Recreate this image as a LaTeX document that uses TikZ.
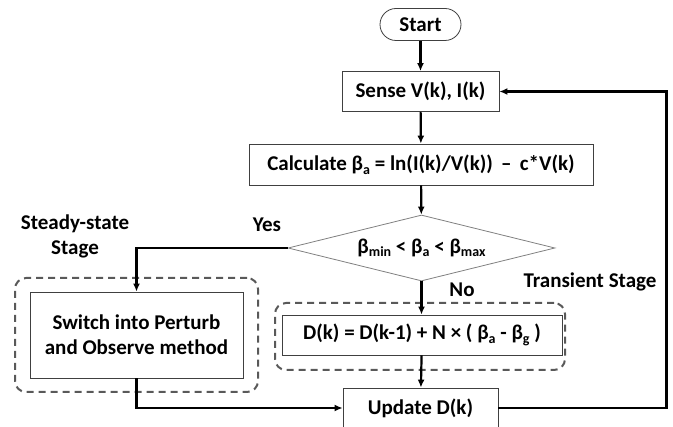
\documentclass[tikz,border=0pt]{standalone}
\usepackage{fontspec}
\setmainfont{Carlito}
\usetikzlibrary{shapes.geometric,arrows.meta}
\definecolor{mygray1}{HTML}{404040}
\definecolor{mygray2}{HTML}{808080}
\definecolor{mygray3}{HTML}{595959}
\newcommand{\lowsub}[1]{\raisebox{-0.35ex}{\fontsize{14}{14}\selectfont #1}}

\begin{document}
\begin{tikzpicture}[x=1pt,y=-1pt,
                    every node/.style={font=\fontsize{21}{25}\selectfont\bfseries,inner sep=0pt},
                    stepbox/.style={draw=mygray1,line width=0.8pt,fill=white,align=center},
                    decision/.style={diamond,aspect=4,draw=mygray2,line width=0.8pt,fill=white},
                    stagebox/.style={draw=mygray3,line width=2pt,dash pattern=on 7pt off 5pt,rounded corners=11pt},
                    flow/.style={line width=2.2pt,-{Latex[length=8pt,width=7pt]}}]
\useasboundingbox (0,0) rectangle (673,427);
% dashed stage frames
\node[stagebox,minimum width=243pt,minimum height=114pt] (steady) at (136.5,335) {};
\node[stagebox,minimum width=290pt,minimum height=67pt] (transient) at (420,336.5) {};
% flow chart
\node[stepbox,rounded corners=16pt,minimum width=81pt,minimum height=32pt] (start) at (420.5,24.5) {Start};
\node[stepbox,minimum width=157pt,minimum height=40pt] (sense) at (420.5,91.5) {Sense V(k), I(k)};
\node[stepbox,minimum width=344pt,minimum height=41pt] (calc) at (421,164.5)
    {Calculate β\lowsub{a} = ln(I(k)/V(k))~\,\textendash~\,c*V(k)};
\node[decision,minimum width=267pt,minimum height=66pt] (cond) at (421.5,248)
    {β\lowsub{min} < β\lowsub{a} < β\lowsub{max}};
\node[stepbox,minimum width=213pt,minimum height=86pt] (switch) at (136.5,335)
    {Switch into Perturb\\and Observe method};
\node[stepbox,minimum width=280pt,minimum height=40pt] (dk) at (422,335)
    {D(k) = D(k-1) + N × ( β\lowsub{a} - β\lowsub{g} )};
\node[stepbox,minimum width=155pt,minimum height=40pt] (update) at (420.5,408) {Update D(k)};
% labels
\node (yes) at (267,225) {Yes};
\node (no) at (462,290) {No};
\node[align=center] (steadylabel) at (75,236) {Steady-state\\Stage};
\node (transientlabel) at (590,282) {Transient Stage};
% connectors
\draw[flow] (start) -- (sense);
\draw[flow] (sense) -- (calc);
\draw[flow] (calc) -- (cond);
\draw[flow] (cond.west) -| (switch.north);
\draw[flow] (cond.south) -- (cond.south |- dk.north);
\draw[flow] (dk) -- (update);
\draw[flow] (switch.south) |- (update.west);
\draw[flow] (update.east) -- ++(168,0) |- (sense.east);
\end{tikzpicture}
\end{document}
